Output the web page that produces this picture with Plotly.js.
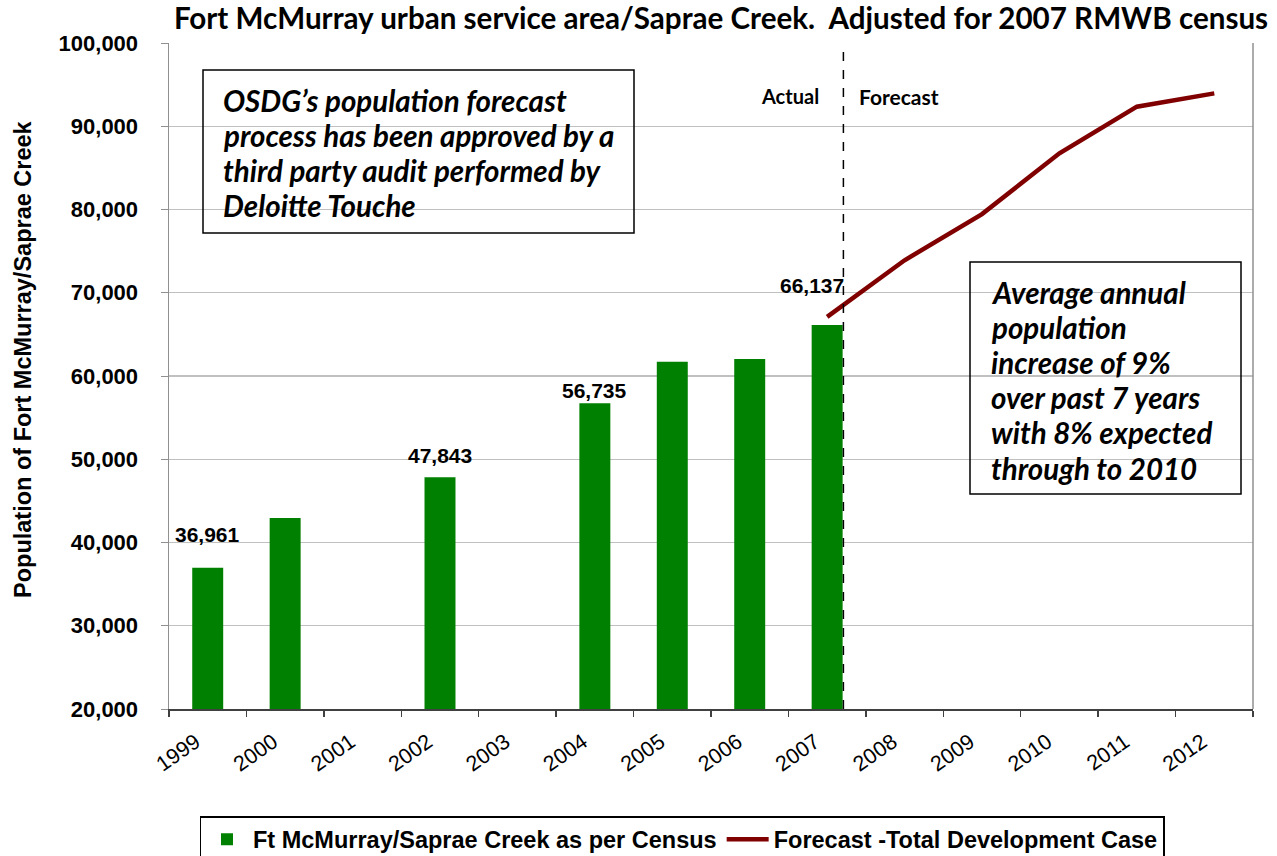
<!DOCTYPE html>
<html><head><meta charset="utf-8">
<script src="https://cdn.plot.ly/plotly-3.0.1.min.js"></script>
<style>html,body{margin:0;padding:0;background:#fff;}#chart{width:1277px;height:856px;}</style>
</head><body><div id="chart"></div>
<script>
// ---- data ----
const years = ['1999','2000','2001','2002','2003','2004','2005','2006','2007','2008','2009','2010','2011','2012'];
const censusYears = ['1999','2000','2002','2004','2005','2006','2007'];
const censusValues = [36961, 42950, 47843, 56735, 61700, 62050, 66137];
const forecastYears = ['2007','2008','2009','2010','2011','2012'];
const forecastValues = [67100, 73900, 79450, 86750, 92350, 93950];
const labelledYears = ['1999','2002','2004','2007'];
const seriesNames = ['Ft McMurray/Saprae Creek as per Census', 'Forecast -Total Development Case'];
const titleText = 'Fort McMurray urban service area/Saprae Creek.  Adjusted for 2007 RMWB census';
const yTitle = 'Population of Fort McMurray/Saprae Creek';
const noteLeft = ['OSDG\u2019s population forecast','process has been approved by a','third party audit performed by','Deloitte Touche'];
const noteRight = ['Average annual','population','increase of 9%','over past 7 years','with 8% expected','through to 2010'];

// ---- layout helpers (pixel -> paper) ----
const L = 169, R = 1253, T = 43, B = 709;
const px = x => (x - L) / (R - L);
const py = y => (B - y) / (B - T);
const arial = 'Liberation Sans, Arial, sans-serif';
const cal = 'Lato, Carlito, Calibri, sans-serif';
const fmt = v => String(v).replace(/\B(?=(\d{3})+(?!\d))/g, ',');

const labelOffsets = {'1999':[0,33], '2002':[0,22], '2004':[0,13], '2007':[-15,39]};

const traces = [
  {type:'bar', x: censusYears, y: censusValues, name: seriesNames[0],
   marker:{color:'#008000'}},
  {type:'scatter', mode:'lines', x: forecastYears, y: forecastValues, name: seriesNames[1],
   line:{color:'#800000', width:4.5}}
];

const annotations = [];
labelledYears.forEach(yr => {
  const i = censusYears.indexOf(yr);
  const off = labelOffsets[yr];
  annotations.push({xref:'x', yref:'y', x: years.indexOf(yr), y: censusValues[i], text: fmt(censusValues[i]),
    showarrow:false, yanchor:'middle', xanchor:'center', xshift: off[0], yshift: off[1],
    font:{family: arial, size:21, color:'#000', weight:'bold'}});
});
const noteFont = {family: cal, size:29.5, color:'#000', weight:'bold', style:'italic'};
noteLeft.forEach((t, k) => annotations.push({xref:'paper', yref:'paper', x: px(221), y: py(100 + k*35.3),
  xanchor:'left', yanchor:'middle', align:'left', text: t, showarrow:false, font: noteFont}));
noteRight.forEach((t, k) => annotations.push({xref:'paper', yref:'paper', x: px(989), y: py(292 + k*35.2),
  xanchor:'left', yanchor:'middle', align:'left', text: t, showarrow:false, font: noteFont}));
annotations.push({xref:'paper', yref:'paper', x: px(790), y: py(96), xanchor:'center', yanchor:'middle',
  text:'Actual', showarrow:false, font:{family: cal, size:20, color:'#000', weight:'bold'}});
annotations.push({xref:'paper', yref:'paper', x: px(857), y: py(96), xanchor:'left', yanchor:'middle',
  text:'Forecast', showarrow:false, font:{family: cal, size:21, color:'#000', weight:'bold'}});
annotations.push({xref:'paper', yref:'paper', x: px(23), y: py(359), xanchor:'center', yanchor:'middle',
  text: yTitle, textangle:-90, showarrow:false, font:{family: arial, size:23.5, color:'#000', weight:'bold'}});

const shapes = [
  {type:'line', xref:'x', yref:'paper', x0: 8.21, x1: 8.21, y0: 0, y1: 1, line:{color:'#000', width:1.5, dash:'dash'}},
  {type:'line', xref:'paper', yref:'paper', x0: 1, x1: 1, y0: 0, y1: 1, line:{color:'#909090', width:1.5}},
  {type:'rect', xref:'paper', yref:'paper', x0: px(203), x1: px(634), y0: py(233), y1: py(70), line:{color:'#000', width:1.5}, fillcolor:'rgba(255,255,255,0)'},
  {type:'rect', xref:'paper', yref:'paper', x0: px(970), x1: px(1241), y0: py(494), y1: py(262), line:{color:'#000', width:1.5}, fillcolor:'rgba(255,255,255,0)'}
];

const layout = {
  width:1277, height:856,
  margin:{l:L, r:1277-R, t:T, b:856-B, pad:0, autoexpand:false},
  paper_bgcolor:'#fff', plot_bgcolor:'#fff',
  showlegend:true,
  bargap:0.6,
  title:{text: titleText, x: 721/1277, xref:'container', xanchor:'center', yref:'container', y: 1 - 19/856, yanchor:'middle',
    font:{family: cal, size:29.6, color:'#000', weight:'bold'}},
  xaxis:{type:'category', categoryorder:'array', categoryarray: years, range:[-0.5, 13.5],
    tickson:'boundaries', ticks:'outside', ticklen:6, tickcolor:'#404040', tickwidth:1.5,
    showline:true, linecolor:'#404040', linewidth:2, showgrid:false, zeroline:false,
    ticklabelstandoff:10, ticklabelshift:-12,
    tickangle:-35, tickfont:{family: arial, size:21.5, color:'#000'}},
  yaxis:{range:[20000, 100000], dtick:10000, tickformat:',d', ticks:'outside', ticklen:7,
    tickcolor:'#909090', ticklabelstandoff:18,
    showline:true, linecolor:'#909090', linewidth:1.5, showgrid:true, gridcolor:'#c0c0c0', gridwidth:1.2,
    zeroline:false, tickfont:{family: arial, size:22, color:'#000', weight:'bold'}},
  legend:{orientation:'h', x: px(682), xanchor:'center', y: py(816), yanchor:'top',
    bordercolor:'#000', borderwidth:1.5, bgcolor:'#fff', itemwidth:42,
    font:{family: arial, size:23.5, color:'#000', weight:'bold'}},
  annotations, shapes
};

Plotly.newPlot('chart', traces, layout, {displayModeBar:false, staticPlot:true});
</script></body></html>
